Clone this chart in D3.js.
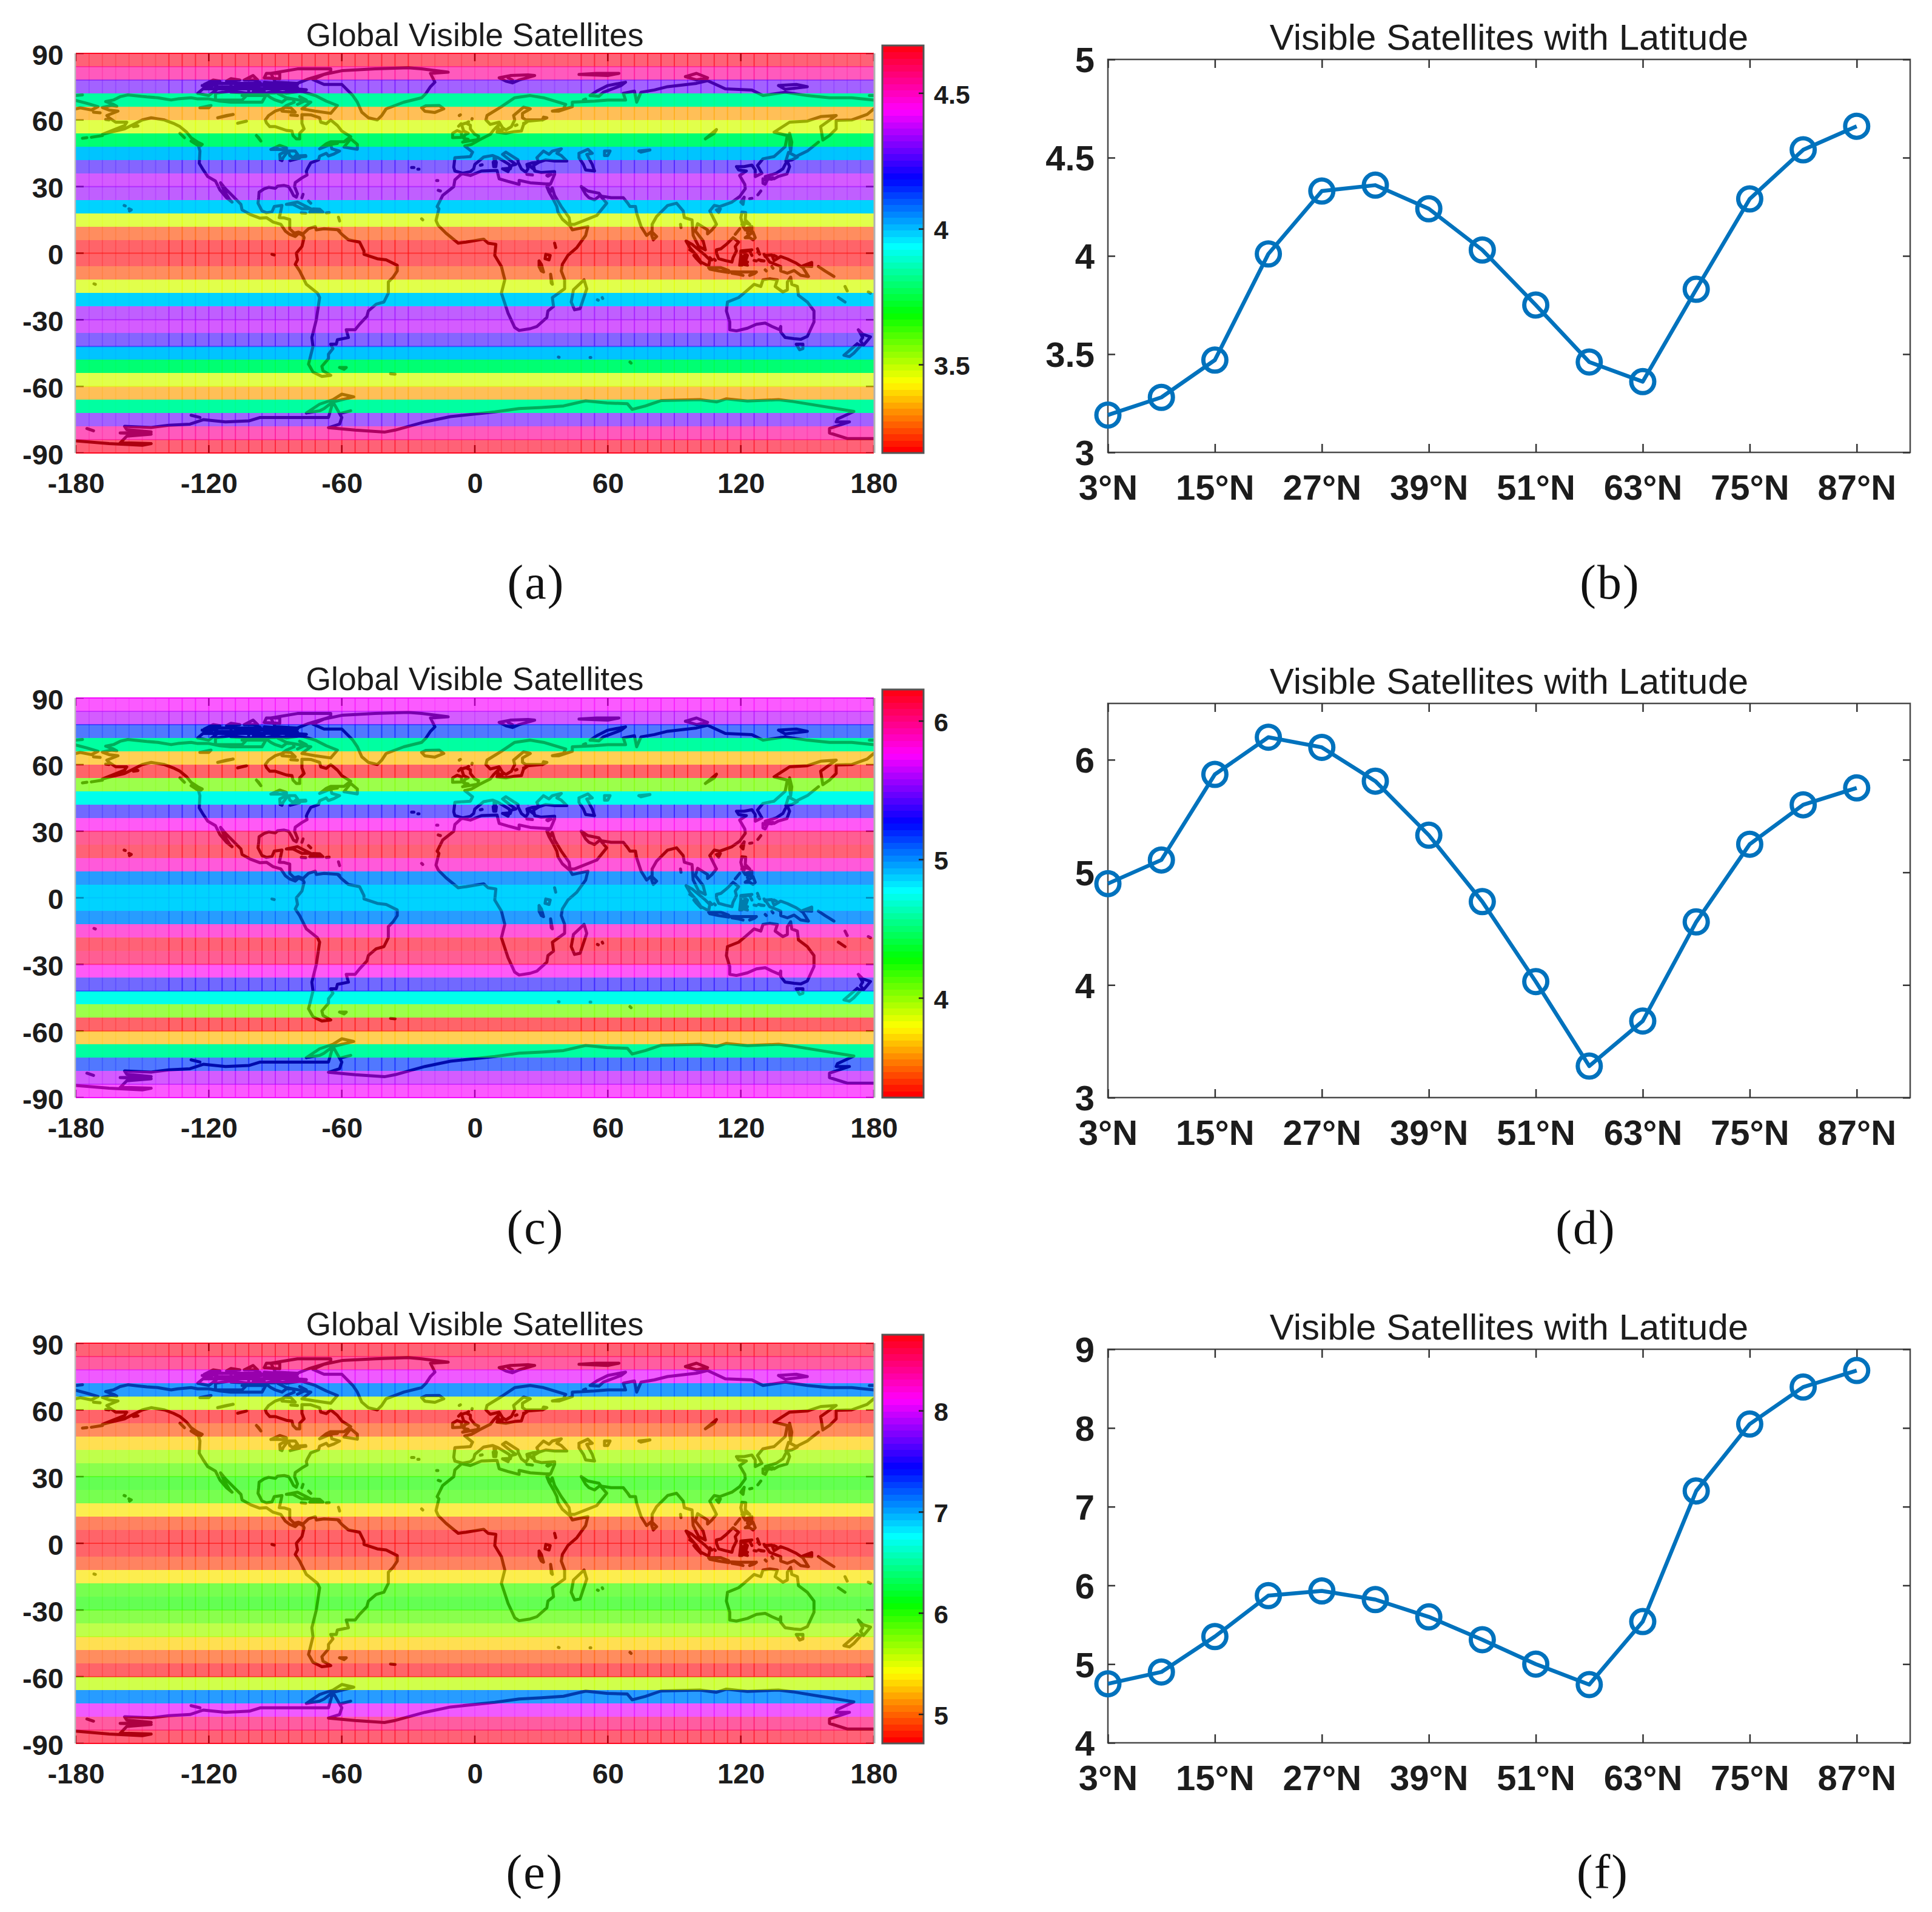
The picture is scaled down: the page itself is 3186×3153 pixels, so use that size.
<!DOCTYPE html>
<html><head><meta charset="utf-8">
<style>html,body{margin:0;background:#fff}svg{display:block}
text{font-family:"Liberation Sans",Arial,sans-serif;fill:#1c1c1c}</style>
<script src="https://cdn.jsdelivr.net/npm/d3@7"></script></head><body>
<script>
// ---------- data ----------
const latitudes=[3,9,15,21,27,33,39,45,51,57,63,69,75,81,87];
const satsA=[3.19,3.28,3.47,4.01,4.33,4.36,4.24,4.03,3.75,3.46,3.36,3.83,4.29,4.54,4.66];
const satsC=[4.90,5.11,5.87,6.20,6.11,5.81,5.33,4.74,4.03,3.28,3.68,4.56,5.25,5.60,5.75];
const satsE=[4.75,4.90,5.35,5.87,5.93,5.82,5.60,5.31,5.00,4.74,5.54,7.20,8.05,8.52,8.73];
const lineTicksX=[3,15,27,39,51,63,75,87];
const lineDomainX=[3,93];
const lineTicksA=[3,3.5,4,4.5,5], lineTicksC=[3,4,5,6], lineTicksE=[4,5,6,7,8,9];
const lineDomainA=[3,5], lineDomainC=[3,6.5], lineDomainE=[4,9];
const barDomainA=[3.174,4.675], barDomainC=[3.28,6.226], barDomainE=[4.71,8.75];
const barTicksA=[3.5,4,4.5], barTicksC=[4,5,6], barTicksE=[5,6,7,8];
const lonTicks=[-180,-120,-60,0,60,120,180];
const latTicks=[90,60,30,0,-30,-60,-90];
const captions=["(a)","(b)","(c)","(d)","(e)","(f)"];
const titleMap="Global Visible Satellites", titleLine="Visible Satellites with Latitude";
const coastlines=[
// N America mainland
[-168,65.6,-164,66.5,-161.5,66.2,-163,67,-166.5,68.3,-163,69,-160,70.5,-156.5,71.3,-152,70.8,-148,70.4,-143,70,-137,69,-134,69.5,-128,70,-125,69.5,-120,69.5,-115,68.5,-110,68,-105,68,-100,68,-96,68,-94,71.5,-92,70,-90,69,-87,68,-85,69.5,-82,69.5,-81.5,68,-85,66.5,-87,65,-90,64,-93,62,-94.5,60,-94,58.7,-92.5,57,-90,57,-85,55.3,-82.5,55,-82,53,-80.5,51.5,-79,51.5,-79,54,-77,56,-78,58.5,-78,62.4,-74,62.3,-70,61,-69.5,59,-67,58.3,-65,60,-62,57.5,-60,55,-56,52.5,-59,50.2,-65,50.2,-67,49.3,-70,47,-65,49,-64.5,47,-61,46,-63.5,44.7,-66,43.8,-67,45,-70,43.7,-70.5,42,-74,40.7,-75.5,38,-76,36.8,-75.7,35.2,-78,33.9,-81,31.8,-81.3,30,-80,26.8,-80.5,25.2,-81.8,26,-82.8,28,-84,30,-86,30.5,-89,30.2,-90,29.2,-93,29.7,-95,29,-97.3,27.5,-97.5,25,-97.8,22.5,-96,19,-94,18.2,-91.5,18.6,-90.5,21,-87,21.5,-87.5,19,-88.2,16,-86,15.9,-83.5,15.2,-83.5,11,-81.5,9,-79.5,9.5,-77.5,8.7,-77.5,8,-79.5,8.9,-81,7.5,-83.5,8.5,-85.5,10,-87.5,13,-91,14,-94,16,-97,15.8,-101,17.3,-105,19.5,-105.5,22,-109,25.5,-112.5,29,-114.7,31.7,-113,28,-110.5,24,-109.5,23,-112,25,-115,28.5,-117,32.5,-120.5,34.5,-122.5,37.5,-124.3,40.5,-124,46,-124.7,48.4,-123,49,-125,50,-128,52,-130,54.5,-133,57,-136,58.5,-140,60,-146,61,-150,60,-152,59,-154,58,-158,56,-163,54.8,-168,53.5,-163,55.5,-158,57.5,-157,59,-162,59,-165,61,-166,62,-161,64,-165,64.5,-168,65.6],
// Greenland
[-73,78.2,-68,76,-60,76,-55,71,-53,68,-51,63.5,-48,61,-44,60,-42,62,-40,65,-32,68,-24,70,-22,72,-20,75,-18,77,-20,81,-12,81.5,-24,83,-30,83.5,-45,83,-60,82.2,-68,80.5,-73,78.2],
// Canadian Arctic
[-80,73.5,-72,71,-67,68.5,-62,66.5,-65,63,-72,64,-78,65,-74,68,-85,70,-89,72,-80,73.5],
[-117,69,-105,69,-102,72,-110,73,-117,72,-117,69],[-125,72,-120,71,-116,74,-122,74.5,-125,72],
[-90,77,-80,76.5,-75,78.5,-65,81.5,-65,83,-80,83,-92,81,-90,77],[-95,75,-80,74.7,-82,76,-95,77,-95,75],
[-117,75,-106,75,-106,76.5,-116,76.5,-117,75],[-95,79,-88,78.5,-88,81,-94,81,-95,79],
[-102,72,-96,72,-96,74,-102,74,-102,72],[-95,72,-90,73,-91,74,-95,74,-95,72],[-110,75,-100,75,-100,76.5,-110,76.5,-110,75],
[-122,76,-115,77.5,-118,78,-122,76],[-104,78,-98,78,-100,80,-104,78],[-123,75.5,-117,76.2,-120,74.6,-123,75.5],[-112,77.5,-106,78,-110,78.6,-112,77.5],[-100,75,-96,75.5,-97,77,-100,76.5,-100,75],[-100,72.8,-95,73,-99,74],[-85,73,-78,72.8,-76,73.6,-81,74],[-122,74,-110,74,-100,74,-90,74,-80,74],[-110,72.5,-100,72,-90,72.2],[-108,76,-90,76,-80,76],[-105,71,-95,71],[-80,67,-76,69,-79,70.5],[-78,73,-85,72,-90,73],
[-87,64,-81,63.5,-83,65.5,-86,65.7,-87,64],[-83,62.2,-80,62],[-59,47.8,-53,46.8,-53,49,-56,51.5,-59,47.8],[-64,49.9,-62,49.4,-64,49.2],[-128,50.5,-123.5,48.4,-125,48.6,-128,50.5],[-133,54,-131,52,-132,53,-133,54],
[-154,58,-152,57.3,-154,57,-154,58],[-173,52.2,-168,53],[-177,51.8,-175,52],[-172,63.5,-169,63.2],[-166.5,60.2,-165,60],
// lakes N America
[-92,46.7,-88,48.5,-85,47.5,-85,46.5,-89,46.8,-92,46.7],[-87.8,42,-88,44.5,-85,46,-85,45,-86.5,43,-87,41.7,-87.8,42],
[-84,46,-81,46,-80,44.6,-82,43,-83.5,44,-84,46],[-83.3,41.7,-79,42.8,-81,42.6,-83.3,41.7],[-79.7,43.3,-76.2,43.6,-76.3,44,-79.5,43.8,-79.7,43.3],
[-98.5,53,-96.5,50.5,-97.5,52,-98.5,53],[-116,61,-109,62.5,-112,62,-116,61],[-124,65.5,-119,66.5,-120,65.5,-124,65.5],[-107,58.5,-103,59.5],
// Caribbean, Pacific
[-85,22,-80,23,-74,20,-78,20,-82,22,-85,22],[-74.4,18.5,-68.5,18.5,-70,19.8,-73,19.9,-74.4,18.5],[-78.3,18.2,-76.3,18],[-67,18.2,-65.7,18.3],[-78,25,-77.5,26.5],[-75,23.5,-74,22.5],
[-156,20,-155,19.5,-155.8,19],[-158.2,21.5,-157.7,21.3],[-61.5,16.2,-61,14.5],[-61.5,10.5,-61,10.1],
// S America
[-77.5,8.7,-75,11,-72,12,-71.5,10.5,-68,11,-62,10.6,-60,8.5,-57,6,-52,5,-50,1,-50,-0.5,-44,-2.5,-40,-3,-35,-5.5,-35,-8,-37,-11,-39,-13,-39,-18,-41,-22,-44.5,-23,-48,-26,-48.7,-28.5,-52,-32,-54,-34.5,-58,-34.5,-57,-38,-62,-39,-62.5,-41,-65,-41,-64,-43,-66,-45.5,-66,-47.5,-69,-51,-68.5,-53,-65,-55,-69,-55.5,-73,-53.5,-75,-50,-74,-46,-73,-42,-73.5,-38,-71.5,-30,-70,-20,-71,-18,-76,-14,-79,-8,-81,-5,-80,-3,-80.5,0,-78,3,-77,7,-77.5,8],
[-61,-51.5,-58,-51.5,-59,-52.3,-61,-51.5],[-38,-54.3,-36,-54.5],[-91.5,-0.5,-90.5,-0.8],
// Africa
[-5.9,35.8,-2,35,3,37,10,37.3,11,33.5,15,32.3,20,31,20,32.8,25,31.7,32,31.2,34.2,31.3,32.5,30,33.5,27.5,35.5,24,37,21,37.5,18.5,39.5,15.3,43,12.3,44,10.5,51,12,50,8,46,2.5,42,-1,39.5,-5,39,-8,40.5,-12,40.5,-16,35,-20,35.5,-24,33,-26,32.5,-29,28,-33,25,-34,20,-34.8,18,-33.5,15,-27,12,-18,13.5,-12,12,-6,9,-1,9.5,4,6,4.5,4,6.3,-4,5,-7.5,4.5,-13,9,-16.5,12.5,-17.5,14.7,-16.2,20,-17,21,-14.5,26,-9.5,30,-9,33,-5.9,35.8],
[32,-0.5,34,-1,33.5,-3,31.7,-2.5,32,-0.5],[29,-3.5,30,-5,31,-8.5,30,-8,29,-6,29,-3.5],[34.2,-9.5,35,-14,34.5,-13.5,34.2,-9.5],[36,4.5,36.5,2.5],
[49.3,-12,50.5,-16,47.5,-25,45,-25.5,43.5,-22,44.5,-16.5,49.3,-12],[57.5,-20,57.7,-20.4],[55.3,-21,55.7,-21.2],[-16.5,28.3,-15.5,28],[-24,15.5,-23.5,15],[-28.5,38.6,-27.5,38.6],[-25.7,37.8,-25.2,37.8],[-17.2,32.7,-16.7,32.7],
// Eurasia
[-9,37,-9.5,38.7,-9,43,-2,43.5,-1,45.5,-4.5,48.3,-1.5,49,2,51,4,52,7,53.5,8.5,55.5,10.5,57.5,10.5,56,10,54.5,14,54,18,54.8,21,55,22,58,24,59.5,30,60,23,60,21.5,61,21.5,63,25,65,22,65.8,17.5,62,18,60,16.5,57,14,55.5,12.5,56.5,11,59,7,58,5,60,5.5,62,12,66,18,70,25,71,31,70,41,67,40,65,35,64,38,64,44,66,44,68,54,68.5,60,69,68,69,67,72,72,73,73,68,75,72.5,81,73.5,87,75,100,76.5,105,77.7,113,74,125,73.5,130,71,140,72.5,150,71,160,70,170,70,180,69],
[-180,68.8,-175,67.5,-170,66,-173,64.5,-178,65.5,-180,65],
[180,65,177,62.5,170,60,163,59.8,163,56,160,53,157,51,156,57,163,62,156,61.5,150,59.5,142,59,135,54.5,141,53,140,48,135,43.5,130,42.5,127.5,39.5,129.5,36,126.5,34.5,126.5,37.5,125,39.7,121.5,39,118,39,119,37.5,122.5,37,119.5,35,121.8,31,122,29,119.5,25.5,116,23,110.5,21,108,21.5,106,19,109,13,107,10.5,105,8.7,105,10.5,100.5,13.3,99.5,10,103,5.5,104,1.5,101,3,98.5,8,98,15,94.5,16,94,19,91,22.5,87,21.5,82,16.5,80,13,80,10,77.5,8,75,12,73,18,72.5,21,70,21,69,22.5,67,25,61.5,25,57,25.7,56,27,51,28,48,30,50,26.5,51.5,25,54,24,56.5,26,59.5,22.5,55,17,45,13,43,13,42.5,16,39,21,36,26,34.9,29.5,34.2,27.8,32.5,30],
[34.2,31.3,36,35.5,36,36.7,30,36.3,27,37,26.5,39.5,29,41,32,42,36,41.5,41.5,41.5,39,44,37,45,39,47,35,46,33.5,44.5,31,46,28,43,28.8,41,26,40.7,23.5,40,24,38,23,36.5,21,38,19.5,41,19.5,42,14,45.5,12.5,44.5,16,41.8,18.5,40,16.5,39.5,16,38,15.5,40,10.5,43,8,44,4,43.3,0,40,-0.5,38,-2,36.7,-5.5,36,-9,37],
// inland seas
[47,45,51,46.8,53,45,50.5,44.5,53,40,54,37,50,37.5,49,40,47,43,47,45],[58.5,46,61,46,60,44,58.5,44,58.5,46],[74,46,79,46.5,75,45.5,74,46],[104,51.5,109,55.7,108,54,104,51.5],[30.5,60,32.5,61,31,61.3,30.5,60],
// Mediterranean & N Atlantic islands
[12.5,38,15.5,38.2,15,36.7,12.5,38],[8.3,41,9.7,41,9.5,39,8.5,39,8.3,41],[8.7,43,9.5,43,9.3,41.5,8.7,42,8.7,43],[23.5,35.5,26,35.2],[32.5,35,34.5,35.5,33,34.7,32.5,35],[2.5,39.6,3.3,39.8],[25,39,27,37.5],[24,40,26,38.5],[10.5,55.7,12.5,55.5],[18.3,57.5,19,57.8],[22,58.5,23,58.8],
[-5.5,50,1.3,51.2,1.7,52.7,0,53.5,-2,56,-2,57.6,-4,58.6,-6,58,-5,55,-3,54,-4.5,53.3,-5,51.7,-3,51.3,-5.5,50],[-10,52,-6,52.2,-6,54.5,-8,55.2,-10,54,-10,52],[-7,62,-6.5,62.3],[-7.3,57.2,-6.2,58.3],[-3.2,59,-2.8,59.2],[-1.3,60.2,-1.2,60.6],
[-24,65.5,-22,66.4,-16,66.5,-14,65,-18,63.4,-22.5,63.9,-24,65.5],[11,79,16,80,24,80.3,27,80,20,78,17,76.7,14,77.5,11,79],[52,71,55,73,60,75.5,68,77,66,75.5,58,72.5,56,70.7,52,71],[49,69,50,69.4],[15,79,17,78],
[47,80.5,55,81,65,81,60,80,47,80.5],[95,79.5,100,81,105,79,100,78,95,79.5],[137,75.5,145,76,150,75,140,73.8,137,75.5],[-180,71,-177,71.3],[178,71,180,71],
// East Asia islands
[142,54,143,50,142.5,46,142,49,142,54],[140.3,41.5,141.5,45.4,145.5,43.3,143,42,140.3,41.5],[141,41.5,142,39,140.8,35.7,137,34.6,135,33.5,132,34,131,34.5,136,36,139,38,140,40,141,41.5],[130,33.5,132,33,131,31,130,31.5,130,33.5],[132.5,33.5,134.5,34,134,33.3,132.5,33.5],[145.5,43.8,150,46,155,50],
[121.5,25.2,121,22,120,23,121.5,25.2],[109,19.5,110.8,20,110,18.3,109,19.5],[80,9.5,82,7.5,80.5,6,79.8,8,80,9.5],[92.8,13,93,11.5],[127.7,26.3,129,28],[124,24.5,125,24.7],
// Indonesia / Philippines
[95.3,5.5,98,4,104,-1,106,-3,105.5,-5.8,102,-4,100,-1,97,2.5,95.3,5.5],[97,1.5,98.5,0.5],[98.8,-1,100,-2.5],[100.5,-3,102,-4.5],[105.5,-6.5,108,-6.5,111,-6.5,114.5,-7.8,114.5,-8.7,110,-8,106,-7.2,105.5,-6.5],[109,1.5,111,2,113.5,4,116.5,7,119,5,117.5,3,118,1,116.5,-2,116,-4,113,-3.3,110,-2.5,109,0,109,1.5],[119.5,-5.5,120,-1,120,1,125,1.5,121,0.5,123,-1,122,-4,121,-3,120.5,-5.5,119.5,-5.5],[120,-2,122,-1,121,-3],[121,-5,123,-5.5],[124,1,125,-1],
[131,-1,134,-0.8,135,-3.3,138,-1.5,141,-2.6,145,-4.5,148,-6.5,150.5,-10.5,147,-10,144,-7.8,141,-9,138,-8,138,-6,133,-4,132,-2.5,131,-1],[115,-8.3,119,-8.5,123,-8.5,125,-8.5,127,-8.5],[116,-9,119,-9.5,121,-10],[124,-10,127,-8.5,126,-9.3,124,-10],[127.5,2,128.5,-0.5,127.7,0.5],[128,-3,130.5,-3.5,129,-3.4],[126,-3.3,127,-3.5],[122.5,-5,123,-4],[106,-2,107,-3],[108,-2.7,108.5,-3.2],[134,-6,134.5,-6.8],[131,-7.5,131.5,-8],[130.5,-0.5,131,-1.5],[135,-1,136,-1.5],
[120.5,18.5,122.2,18.3,122,15,124,13,120.5,14,120,16,120.5,18.5],[122,7,125.5,9.5,126.5,7,125.5,6,124,7,122,7],[122,11,125,12,125,10,123,10,122,11],[117.5,8.5,119.5,11],[120.5,13,121.5,12.5],[123,9,123.5,11],[124,10,125,11],[121,12,122,10.5],
[155,-6,158,-8,162,-10.5],[148,-5.7,152,-4.2,152,-6,148,-5.7],[167,-15,168,-17],[164,-20,167,-22],[177.5,-17.5,178.5,-18],[-171.8,-13.8,-171.2,-14],
// Australia, NZ
[114,-22,113.5,-26,115,-31,115,-34.5,118,-35,123,-33.8,127,-32,131,-31.5,134,-33,137.5,-34.5,138,-33,138,-35.5,140,-38,144,-38.5,147,-38.8,150,-37.5,153,-31,153,-26,150,-22,146,-19,145.5,-15,143,-14,142.5,-10.8,141,-13,141,-16.5,139,-17.5,135.5,-15,136.5,-12,133,-11.5,130,-12,129,-15,126,-14,122,-17.5,119,-20,114,-22],
[145,-41,148,-41,148,-43,146.5,-43.5,145,-41],[172.5,-40.8,174,-41.7,171,-45,169,-46.6,166.5,-46,170,-43,172.5,-40.8],[173,-34.5,175,-36.5,178.5,-37.7,177,-39.5,175.3,-41.5,174,-39.5,175,-38,173,-34.5],[70,-49,70.5,-49.5],[37.7,-46.8,38,-46.9],[52,-47,52.3,-47],
// Antarctica
[-180,-84.5,-165,-85.8,-150,-86.5,-146,-85.8,-155,-85.5,-160,-85.5,-157,-82.4,-146,-81.5,-160,-81,-150,-80.8,-146,-80.5,-157,-79.5,-158,-78,-146,-78.5,-138,-77.5,-128.5,-77,-122.5,-75,-112.5,-76,-101.7,-75.5,-96.8,-74,-66,-74,-64,-67,-60,-74,-61,-77,-66,-78.6,-54,-79.7,-40.8,-80.6,-36,-79.7,-22.5,-76,-11,-73.6,9,-71.5,20,-70,30,-69.5,40,-68.8,50,-66.5,59.6,-67.5,68.8,-67.8,71,-70.4,77,-68.8,84,-66.4,101.5,-66,109,-67,113.5,-65.6,123,-66.6,137,-66,143.5,-66.8,160,-69.5,171,-71.3,163.6,-74.7,163,-76,169,-76,160,-79,160,-81,168,-83.5,180,-83.5],
[-76,-72,-70,-71,-68,-70,-64,-67,-54.6,-64.7,-60,-63.5,-64,-66,-70,-68,-76,-72],[-175,-79,-172,-80],[-128,-73,-124,-74],[-60,-72,-56,-71]
];
// column-edge strength by longitude ranges, rows whose edge shows
const strongLonRanges=[[-138,-30],[45,135]];
const shownEdges=[90,84,78,30,0,-30,-42,-60,-84,-90];
// band-colour tint table (hue -> tint seen on the map)
const tintHue=[0,22,44,55,66,92,110,125,139,158,180,199,207,226,241,255,275,285,300,330,360];
const tintRgb=["#ff6469","#ff8c5f","#ffcd55","#ffeb50","#e6ff4b","#96ff4b","#5aff55","#00ff64","#00ff78","#00ffb4","#00ffff","#00cdff","#00b9ff","#3c8cff","#5a6eff","#8c64ff","#be5fff","#e15aff","#ff5aff","#ff5ab4","#ff6469"];

// ---------- helpers ----------
const W=3186,H=3153;
const svg=d3.select("body").append("svg").attr("width",W).attr("height",H).attr("viewBox",`0 0 ${W} ${H}`);
const defs=svg.append("defs");
const tint=d3.scaleLinear().domain(tintHue).range(tintRgb).interpolate(d3.interpolateRgb);
const pure=h=>d3.hsl(h,1,.5).formatHex();
const dark=h=>{const c=d3.rgb(d3.hsl(h,1,.5));return d3.rgb(c.r*.68,c.g*.68,c.b*.68).formatHex()};
const hueLevels=d3.range(64).map(i=>i/64*360);
const fontB="700";
const plain=d=>String(d);
const rowsLat=d3.range(87,-88,-6);
const colsLon=d3.range(-180,180,6);
const coastD=(x,y)=>coastlines.map(c=>{let s="";for(let i=0;i<c.length;i+=2)s+=(i?"L":"M")+x(c[i]).toFixed(1)+","+y(c[i+1]).toFixed(1);return s}).join("");

function drawMap(id,top,bottom,barTop,values,barDomain,barTicks){
  const L=125,R=1441;
  const x=d3.scaleLinear().domain([-180,180]).range([L,R]);
  const y=d3.scaleLinear().domain([90,-90]).range([top,bottom]);
  const qz=d3.scaleQuantize().domain(barDomain).range(hueLevels);
  const hueAt=lat=>qz(values[latitudes.indexOf(Math.abs(lat))]);
  const g=svg.append("g");
  // cells
  const rows=g.append("g").selectAll("g").data(rowsLat).join("g");
  rows.selectAll("rect").data(lat=>colsLon.map(lon=>({lat,lon}))).join("rect")
    .attr("x",d=>x(d.lon)).attr("width",d=>x(d.lon+6)-x(d.lon))
    .attr("y",d=>y(d.lat+3)).attr("height",d=>y(d.lat-3)-y(d.lat+3))
    .attr("fill",d=>tint(hueAt(d.lat))).attr("shape-rendering","crispEdges");
  // grid edges
  rows.selectAll("line").data(lat=>colsLon.slice(1).map(lon=>({lat,lon}))).join("line")
    .attr("x1",d=>x(d.lon)).attr("x2",d=>x(d.lon))
    .attr("y1",d=>y(d.lat+3)).attr("y2",d=>y(d.lat-3))
    .attr("stroke",d=>pure(hueAt(d.lat))).attr("stroke-width",2)
    .attr("stroke-opacity",d=>strongLonRanges.some(r=>d.lon>=r[0]&&d.lon<=r[1])?.6:.22);
  g.append("g").selectAll("line").data(shownEdges).join("line")
    .attr("x1",L).attr("x2",R).attr("y1",d=>y(d)).attr("y2",d=>y(d))
    .attr("stroke",d=>pure(hueAt(Math.abs(d)==90?87:(d>0?d-3:d+3)))).attr("stroke-width",2)
    .attr("stroke-opacity",d=>Math.abs(d)==90?.95:.5);
  // coast + ticks: mask over dark band colours
  const mid="mask"+id;
  const m=defs.append("mask").attr("id",mid).attr("maskUnits","userSpaceOnUse").attr("x",L).attr("y",top).attr("width",R-L).attr("height",bottom-top);
  m.append("path").attr("d",coastD(x,y)).attr("fill","none").attr("stroke","#fff").attr("stroke-width",5).attr("stroke-linejoin","round").attr("stroke-linecap","round");
  const tk=m.append("g").attr("stroke","#fff").attr("stroke-width",2.5);
  lonTicks.forEach(v=>{tk.append("line").attr("x1",x(v)).attr("x2",x(v)).attr("y1",top).attr("y2",top+13);tk.append("line").attr("x1",x(v)).attr("x2",x(v)).attr("y1",bottom).attr("y2",bottom-13);});
  latTicks.forEach(v=>{tk.append("line").attr("y1",y(v)).attr("y2",y(v)).attr("x1",L).attr("x2",L+13);tk.append("line").attr("y1",y(v)).attr("y2",y(v)).attr("x1",R).attr("x2",R-13);});
  const dk=g.append("g").attr("mask",`url(#${mid})`);
  dk.selectAll("rect").data(rowsLat).join("rect").attr("x",L).attr("width",R-L)
    .attr("y",d=>y(d+3)).attr("height",d=>y(d-3)-y(d+3)).attr("fill",d=>dark(hueAt(d)));
  // side edges
  g.append("line").attr("x1",L-1).attr("x2",L-1).attr("y1",top).attr("y2",bottom).attr("stroke","#bdbdbd").attr("stroke-width",2.5);
  g.append("line").attr("x1",R+1).attr("x2",R+1).attr("y1",top).attr("y2",bottom).attr("stroke","#b0b0b0").attr("stroke-width",3);
  // axes labels via d3 axes
  const ax=g.append("g").attr("transform",`translate(0,${bottom})`).call(d3.axisBottom(x).tickValues(lonTicks).tickFormat(plain).tickSize(0).tickPadding(33));
  const ay=g.append("g").attr("transform",`translate(${L},3)`).call(d3.axisLeft(y).tickValues(latTicks).tickFormat(plain).tickSize(0).tickPadding(20));
  [ax,ay].forEach(a=>{a.select(".domain").remove();a.selectAll("text").attr("font-size",47).attr("font-weight",fontB).attr("font-family",null).style("fill","#1c1c1c");});
  // title
  g.append("text").attr("x",(L+R)/2).attr("y",barTop+1).attr("text-anchor","middle").attr("font-size",53.4).text(titleMap);
  // colour bar
  const bx0=1455,bx1=1523;
  const cy=d3.scaleLinear().domain(barDomain).range([bottom,barTop]);
  const stepV=(barDomain[1]-barDomain[0])/64;
  const cb=g.append("g");
  cb.selectAll("rect").data(hueLevels).join("rect").attr("x",bx0).attr("width",bx1-bx0)
    .attr("y",(h,i)=>cy(barDomain[0]+(i+1)*stepV)).attr("height",(h,i)=>cy(barDomain[0]+i*stepV)-cy(barDomain[0]+(i+1)*stepV)+.5)
    .attr("fill",h=>pure(h)).attr("shape-rendering","crispEdges");
  cb.append("rect").attr("x",bx0).attr("y",barTop).attr("width",bx1-bx0).attr("height",bottom-barTop).attr("fill","none").attr("stroke","#555").attr("stroke-width",3);
  const ca=cb.append("g").attr("transform",`translate(${bx1},0)`).call(d3.axisRight(cy).tickValues(barTicks).tickFormat(plain).tickSizeInner(-8).tickSizeOuter(0).tickPadding(17));
  ca.select(".domain").remove();
  ca.selectAll("line").attr("stroke","#222").attr("stroke-width",2.5);
  ca.selectAll("text").attr("font-size",43).attr("font-weight",fontB).attr("font-family",null).attr("dy","0.39em").style("fill","#1c1c1c");
}

function drawLine(top,bottom,values,domainY,ticksY,titleBase){
  const L=1827,R=3150;
  const x=d3.scaleLinear().domain(lineDomainX).range([L,R]);
  const y=d3.scaleLinear().domain(domainY).range([bottom,top]);
  const g=svg.append("g");
  g.append("rect").attr("x",L).attr("y",top).attr("width",R-L).attr("height",bottom-top).attr("fill","none").attr("stroke","#4a4a4a").attr("stroke-width",2.5);
  const fm=d=>d+"°N";
  const ab=g.append("g").attr("transform",`translate(0,${bottom})`).call(d3.axisBottom(x).tickValues(lineTicksX).tickFormat(fm).tickSizeInner(-14).tickSizeOuter(0).tickPadding(37));
  const al=g.append("g").attr("transform",`translate(${L},0)`).call(d3.axisLeft(y).tickValues(ticksY).tickFormat(plain).tickSizeInner(-12).tickSizeOuter(0).tickPadding(22));
  const at=g.append("g").attr("transform",`translate(0,${top})`).call(d3.axisTop(x).tickValues(lineTicksX).tickFormat("").tickSizeInner(-14).tickSizeOuter(0));
  const ar=g.append("g").attr("transform",`translate(${R},0)`).call(d3.axisRight(y).tickValues(ticksY).tickFormat("").tickSizeInner(-12).tickSizeOuter(0));
  [ab,al,at,ar].forEach(a=>{a.select(".domain").remove();a.selectAll("line").attr("stroke","#333").attr("stroke-width",2.5);
    a.selectAll("text").attr("font-size",58).attr("font-weight",fontB).attr("font-family",null).style("fill","#1c1c1c");});
  al.selectAll("text").attr("dy","0.36em");
  const blue="#0072BD";
  g.append("path").datum(values).attr("fill","none").attr("stroke",blue).attr("stroke-width",6.5).attr("stroke-linejoin","round")
    .attr("d",d3.line().x((d,i)=>x(latitudes[i])).y(d=>y(d)));
  g.selectAll("circle").data(values).join("circle").attr("cx",(d,i)=>x(latitudes[i])).attr("cy",d=>y(d)).attr("r",19).attr("fill","none").attr("stroke",blue).attr("stroke-width",7);
  g.append("text").attr("x",(L+R)/2).attr("y",titleBase).attr("text-anchor","middle").attr("font-size",60).text(titleLine);
}

drawMap("a",88,747,75,satsA,barDomainA,barTicksA);
drawMap("c",1151,1810,1137,satsC,barDomainC,barTicksC);
drawMap("e",2215,2875,2201,satsE,barDomainE,barTicksE);
drawLine(98,746,satsA,lineDomainA,lineTicksA,82);
drawLine(1160,1810,satsC,lineDomainC,lineTicksC,1144);
drawLine(2225,2874,satsE,lineDomainE,lineTicksE,2209);

// captions
const capX=[884,2655,883,2615,882,2643], capY=[987,987,2051,2051,3114,3114];
svg.append("g").selectAll("text").data(captions).join("text")
  .attr("x",(d,i)=>capX[i]).attr("y",(d,i)=>capY[i]).attr("text-anchor","middle")
  .attr("font-size",80).attr("letter-spacing",2).style("font-family",'"Liberation Serif",serif').style("fill","#111").text(d=>d);
</script></body></html>
